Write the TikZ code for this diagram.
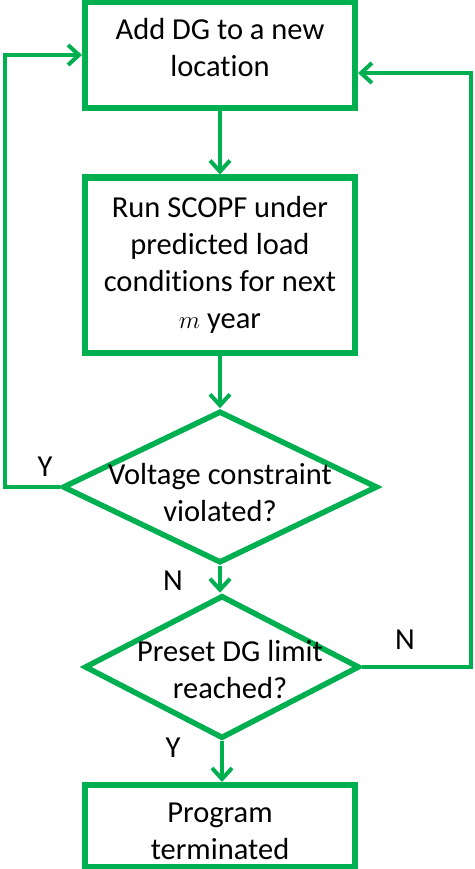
\documentclass[tikz,border=0pt]{standalone}
\usepackage{fontspec}
\setmainfont{Carlito}[Ligatures={NoCommon}]
\usetikzlibrary{shapes.geometric, arrows.meta, positioning}
\definecolor{flowgreen}{RGB}{0, 176, 80}

\begin{document}
\begin{tikzpicture}[x=1pt, y=-1pt,
  font=\fontsize{30.5}{37}\selectfont,
  stepbox/.style={draw=flowgreen, line width=6pt, minimum width=270pt, align=center, inner sep=0pt},
  decision/.style={draw=flowgreen, line width=5.5pt, diamond, inner sep=0pt},
  flow/.style={draw=flowgreen, line width=4pt, -{Straight Barb[length=11pt, width=20pt]}}]
  \useasboundingbox (0,0) rectangle (474,869);

  % steps
  \node[stepbox, minimum height=106pt,
    label={[name=addtext, align=center, yshift=7pt]center:Add DG to a new\\location}] (add) at (220,55) {};
  \node[stepbox, minimum height=175pt] (scopf) at (220,265) {Run SCOPF under\\predicted load\\conditions for next\\$m$ year};
  \node[decision, minimum width=315pt, minimum height=152pt,
    label={[name=volttext, align=center, yshift=-6pt]center:Voltage constraint\\violated?}] (volt) at (220,487) {};
  \node[decision, minimum width=275pt, minimum height=143pt,
    label={[name=limtext, align=center, xshift=8pt, yshift=-3pt]center:Preset DG limit\\reached?}] (lim) at (222,667) {};
  \node[stepbox, minimum height=82pt,
    label={[name=stoptext, align=center, yshift=-5pt]center:Program\\terminated}] (stop) at (220,826) {};

  % branch labels
  \node (yvolt) at (45,467) {Y};
  \node (nvolt) at (173,581) {N};
  \node (nlim) at (405,640) {N};
  \node (ylim) at (173,748) {Y};

  % connectors
  \coordinate (lturn) at (5,487);
  \coordinate (rturn) at (471,73);
  \draw[flow] (add) -- (scopf);
  \draw[flow] (scopf) -- (volt.north);
  \draw[flow] (volt.south) -- (volt.south |- lim.north);
  \draw[flow] (lim.south) -- (lim.south |- stop.north);
  \draw[flow] (volt.west) -- (lturn) |- (add.west);
  \draw[flow] (lim.east) -| (rturn) -- (rturn -| add.east);
\end{tikzpicture}
\end{document}
